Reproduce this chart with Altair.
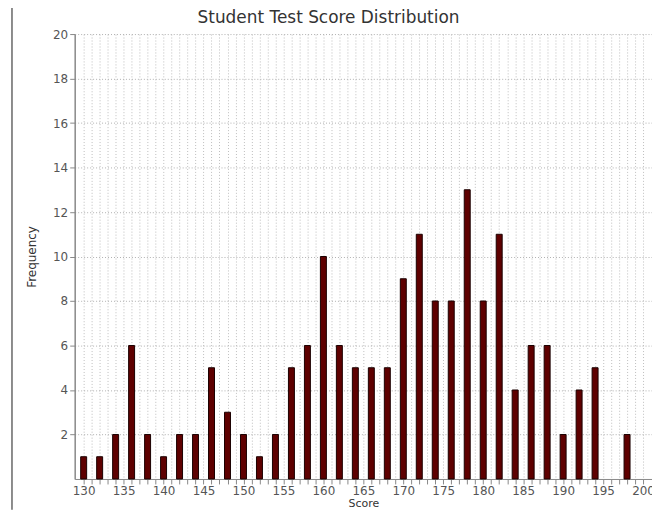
import altair as alt
import pandas as pd

scores = [130, 132, 134, 136, 138, 140, 142, 144, 146, 148, 150, 152, 154, 156, 158,
          160, 162, 164, 166, 168, 170, 172, 174, 176, 178, 180, 182, 184, 186, 188,
          190, 192, 194, 196, 198]
freq = [1, 1, 2, 6, 2, 1, 2, 2, 5, 3, 2, 1, 2, 5, 6,
        10, 6, 5, 5, 5, 9, 11, 8, 8, 13, 8, 11, 4, 6, 6,
        2, 4, 5, 0, 2]
y_ticks = [2, 4, 6, 8, 10, 12, 14, 16, 18, 20]
title_text = ["Student Test Score Distribution"]

df = pd.DataFrame({"score": scores, "freq": freq})

FONT = "DejaVu Sans"

bars = alt.Chart(df).transform_filter("datum.freq > 0").mark_bar(
    size=6, color="#5e0000", stroke="#1a0000", strokeWidth=1
).encode(
    x=alt.X("score:Q",
            scale=alt.Scale(domain=[129.5, 200.5], nice=False, zero=False),
            axis=alt.Axis(values=list(range(130, 201)),
                          labelExpr="datum.value % 5 == 0 ? datum.label : ''",
                          labelOverlap=False, labelFlush=False,
                          grid=True, gridDash=[1, 2], gridColor="#bdbdbd",
                          tickSize=5, tickColor="#888", domainColor="#888",
                          labelFont=FONT, labelFontSize=12, labelColor="#555",
                          labelPadding=2,
                          titleFont=FONT, titleFontSize=11, titleColor="#333",
                          titleFontWeight="normal", titlePadding=1),
            title="Score"),
    y=alt.Y("freq:Q",
            scale=alt.Scale(domain=[0, 20], nice=False),
            axis=alt.Axis(values=y_ticks, grid=True, gridDash=[1, 2], gridColor="#b0b0b0",
                          tickSize=5, tickColor="#888", domainColor="#888", domainWidth=1.5,
                          labelFont=FONT, labelFontSize=12, labelColor="#555",
                          labelPadding=2,
                          titleFont=FONT, titleFontSize=12, titleColor="#333",
                          titleFontWeight="normal", titlePadding=14),
            title="Frequency"),
)

title = alt.Chart(pd.DataFrame({"t": title_text})).mark_text(
    font=FONT, fontSize=17, color="#333", baseline="middle", align="center"
).encode(text="t:N", x=alt.value(255), y=alt.value(-16))

border = alt.Chart(pd.DataFrame({"a": [0]})).mark_rule(color="#666", strokeWidth=1.5).encode(
    x=alt.value(-63), y=alt.value(-33), y2=alt.value(478)
)

chart = alt.layer(bars, title, border).properties(
    width=580,
    height=447,
    autosize=alt.AutoSizeParams(type="none"),
    padding={"left": 67, "top": 25, "right": 0, "bottom": 31},
).configure_view(strokeWidth=0)

chart.save("out.html", embed_options={"renderer": "svg", "actions": False})
